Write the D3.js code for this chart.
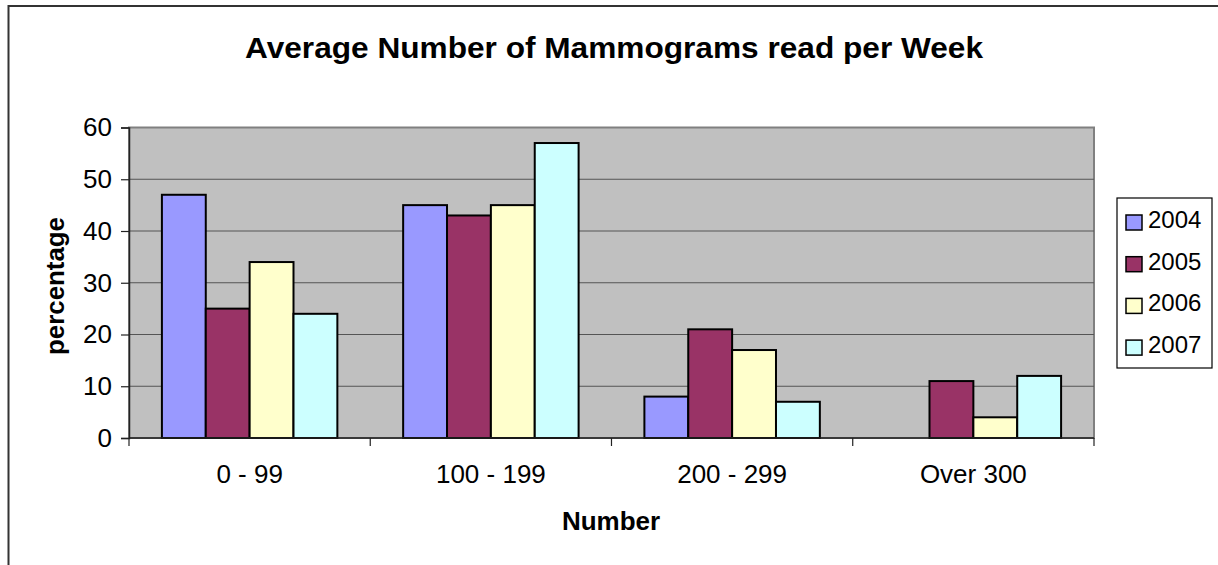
<!DOCTYPE html>
<html>
<head>
<meta charset="utf-8">
<script src="https://cdn.jsdelivr.net/npm/d3@7"></script>
<style>
  html, body { margin: 0; padding: 0; background: #fff; overflow: hidden; }
  text { font-family: "Liberation Sans", Arial, sans-serif; fill: #000; }
</style>
</head>
<body>
<div class="container_graph"></div>
<script>
const categories = ["0 - 99", "100 - 199", "200 - 299", "Over 300"];
const years = ["2004", "2005", "2006", "2007"];
const values2004 = [47, 45, 8, 0];
const values2005 = [25, 43, 21, 11];
const values2006 = [34, 45, 17, 4];
const values2007 = [24, 57, 7, 12];
const yTicks = [0, 10, 20, 30, 40, 50, 60];
const colors = ["#9999ff", "#993366", "#ffffcc", "#ccffff"];

const series = [values2004, values2005, values2006, values2007];
const data = categories.map((c, i) => ({
  cat: c,
  vals: years.map((y, j) => ({ year: y, value: series[j][i] }))
}));

const width = 1218;
const height = 565;
const plot = { left: 129, right: 1094, top: 127.5, bottom: 438 };

const svg = d3
  .select(".container_graph")
  .append("svg")
  .attr("width", width)
  .attr("height", height)
  .style("display", "block");

// outer chart border (runs past the right and bottom of the picture)
svg
  .append("rect")
  .attr("x", 8.5)
  .attr("y", 6)
  .attr("width", 1400)
  .attr("height", 800)
  .attr("fill", "#fff")
  .attr("stroke", "#333")
  .attr("stroke-width", 2);

svg
  .append("text")
  .attr("x", 614)
  .attr("y", 58)
  .attr("text-anchor", "middle")
  .attr("font-weight", "bold")
  .attr("textLength", 738)
  .attr("lengthAdjust", "spacingAndGlyphs")
  .style("font-size", "30px")
  .text("Average Number of Mammograms read per Week");

const x0 = d3
  .scaleBand()
  .domain(categories)
  .range([plot.left, plot.right])
  .paddingInner(0.2727)
  .paddingOuter(0.1364);

const x1 = d3.scaleBand().domain(years).range([0, x0.bandwidth()]);

const y = d3.scaleLinear().domain([0, 60]).range([plot.bottom, plot.top]);

// plot area
svg
  .append("rect")
  .attr("x", plot.left)
  .attr("y", plot.top)
  .attr("width", plot.right - plot.left)
  .attr("height", plot.bottom - plot.top)
  .attr("fill", "#c0c0c0")
  .attr("stroke", "#808080")
  .attr("stroke-width", 2);

svg
  .append("g")
  .selectAll("line")
  .data(yTicks.filter((d) => d > 0 && d < 60))
  .join("line")
  .attr("x1", plot.left)
  .attr("x2", plot.right)
  .attr("y1", (d) => y(d))
  .attr("y2", (d) => y(d))
  .attr("stroke", "#555")
  .attr("stroke-width", 1.2);

const groups = svg
  .append("g")
  .selectAll("g")
  .data(data)
  .join("g")
  .attr("transform", (d) => `translate(${x0(d.cat)},0)`);

groups
  .selectAll("rect")
  .data((d) => d.vals.filter((v) => v.value > 0))
  .join("rect")
  .attr("x", (d) => x1(d.year))
  .attr("y", (d) => y(d.value))
  .attr("width", x1.bandwidth())
  .attr("height", (d) => y(0) - y(d.value))
  .attr("fill", (d) => colors[years.indexOf(d.year)])
  .attr("stroke", "#000")
  .attr("stroke-width", 2);

// y axis
const yAxis = d3
  .axisLeft(y)
  .tickValues(yTicks)
  .tickSize(8)
  .tickPadding(9);

const gy = svg
  .append("g")
  .attr("transform", `translate(${plot.left},0)`)
  .call(yAxis);
gy.select(".domain").attr("stroke", "#222").attr("stroke-width", 1.5);
gy.selectAll(".tick line").attr("stroke", "#222").attr("stroke-width", 1.2);
gy.selectAll("text")
  .style("font-size", "26px")
  .style("font-family", "'Liberation Sans', Arial, sans-serif")
  .attr("fill", "#000");

// x axis: labels at band centres, ticks at band edges
const gx = svg
  .append("g")
  .attr("transform", `translate(0,${plot.bottom})`);
gx.append("line")
  .attr("x1", plot.left)
  .attr("x2", plot.right)
  .attr("stroke", "#222")
  .attr("stroke-width", 1.5);

const step = x0.step();
const edges = categories.map((c) => x0(c) - x0.paddingOuter() * step);
edges.push(plot.right);
gx.selectAll(".xtick")
  .data(edges)
  .join("line")
  .attr("class", "xtick")
  .attr("x1", (d) => d)
  .attr("x2", (d) => d)
  .attr("y1", 0)
  .attr("y2", 8)
  .attr("stroke", "#222")
  .attr("stroke-width", 1.2);

gx.selectAll(".xlabel")
  .data(categories)
  .join("text")
  .attr("class", "xlabel")
  .attr("x", (d) => x0(d) + x0.bandwidth() / 2)
  .attr("y", 45)
  .attr("text-anchor", "middle")
  .style("font-size", "26px")
  .text((d) => d);

svg
  .append("text")
  .attr("x", 611)
  .attr("y", 530)
  .attr("text-anchor", "middle")
  .attr("font-weight", "bold")
  .style("font-size", "26px")
  .text("Number");

svg
  .append("text")
  .attr("transform", `translate(64,286) rotate(-90)`)
  .attr("text-anchor", "middle")
  .attr("font-weight", "bold")
  .attr("textLength", 138)
  .attr("lengthAdjust", "spacingAndGlyphs")
  .style("font-size", "25px")
  .text("percentage");

// legend
const legend = svg.append("g").attr("transform", "translate(1117,198)");
legend
  .append("rect")
  .attr("width", 95)
  .attr("height", 170)
  .attr("fill", "#fff")
  .attr("stroke", "#000")
  .attr("stroke-width", 1.2);

const items = legend
  .selectAll("g")
  .data(years)
  .join("g")
  .attr("transform", (d, i) => `translate(0,${17 + i * 41.7})`);

items
  .append("rect")
  .attr("x", 9)
  .attr("width", 16)
  .attr("height", 15)
  .attr("fill", (d, i) => colors[i])
  .attr("stroke", "#000")
  .attr("stroke-width", 1.5);

items
  .append("text")
  .attr("x", 31)
  .attr("y", 13)
  .style("font-size", "24px")
  .text((d) => d);
</script>
</body>
</html>
